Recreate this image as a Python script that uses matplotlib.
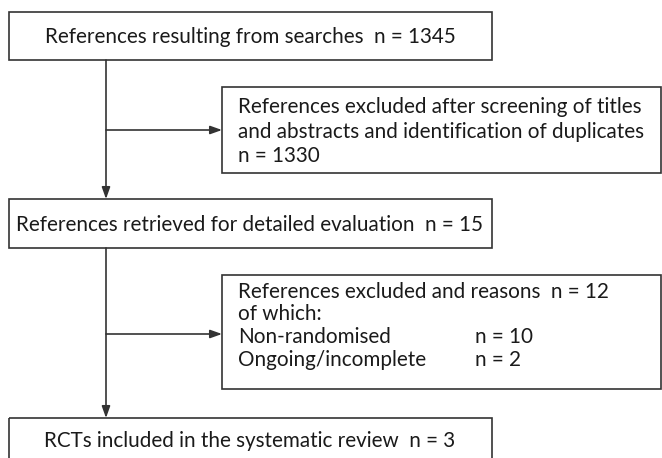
import matplotlib
matplotlib.use("Agg")
from matplotlib import pyplot as plt
from matplotlib.patches import Rectangle

# counts in the flow
n_found = 1345
n_screened_out = 1330
n_retrieved = 15
n_excluded = 12
reasons = ["Non-randomised", "Ongoing/incomplete"]
reason_counts = [10, 2]
n_included = 3

main_labels = [
    f"References resulting from searches  n = {n_found}",
    f"References retrieved for detailed evaluation  n = {n_retrieved}",
    f"RCTs included in the systematic review  n = {n_included}",
]
side1_lines = [
    "References excluded after screening of titles",
    "and abstracts and identification of duplicates",
    f"n = {n_screened_out}",
]
side2_head = [f"References excluded and reasons  n = {n_excluded}", "of which:"]

fam = ["Lato", "DejaVu Sans"]
fs = 14.9
lc = "#333333"
tc = "#1a1a1a"

fig = plt.figure(figsize=(6.62, 4.58), dpi=100)
ax = fig.add_axes([0, 0, 1, 1])
ax.set_xlim(0, 662)
ax.set_ylim(458, 0)
ax.axis("off")

# main boxes (left column): x0, x1, y0, y1
main_boxes = [(9, 492, 12, 60), (9, 492, 199, 248), (9, 492, 418, 462)]
side_boxes = [(222, 661, 87, 173), (222, 661, 275, 389)]

for (x0, x1, y0, y1) in main_boxes + side_boxes:
    ax.add_patch(Rectangle((x0, y0), x1 - x0, y1 - y0, fill=False,
                           edgecolor=lc, linewidth=1.2))

base_y = [43, 231, 447]
for y, lab in zip(base_y, main_labels):
    ax.text(250, y, lab, ha="center", va="baseline",
            fontsize=fs, family=fam, color=tc)

# side box 1 text
for i, s in enumerate(side1_lines):
    ax.text(238, 113 + i * 24.5, s, ha="left", va="baseline",
            fontsize=fs, family=fam, color=tc)

# side box 2 text
for i, s in enumerate(side2_head):
    ax.text(238, 298 + i * 22, s, ha="left", va="baseline",
            fontsize=fs, family=fam, color=tc)
for i, (r, c) in enumerate(zip(reasons, reason_counts)):
    ax.text(238, 343 + i * 23, r, ha="left", va="baseline",
            fontsize=fs, family=fam, color=tc)
    ax.text(475, 343 + i * 23, f"n = {c}", ha="left", va="baseline",
            fontsize=fs, family=fam, color=tc)

# connectors
vx = 106
arrow = dict(arrowstyle="-|>,head_length=0.7,head_width=0.25", color=lc,
             linewidth=1.2, shrinkA=0, shrinkB=0)
ax.annotate("", xy=(vx, 199), xytext=(vx, 60), arrowprops=arrow)
ax.annotate("", xy=(vx, 418), xytext=(vx, 248), arrowprops=arrow)
ax.annotate("", xy=(222, 130), xytext=(vx, 130), arrowprops=arrow)
ax.annotate("", xy=(222, 334), xytext=(vx, 334), arrowprops=arrow)

fig.savefig("out.png", dpi=100)
